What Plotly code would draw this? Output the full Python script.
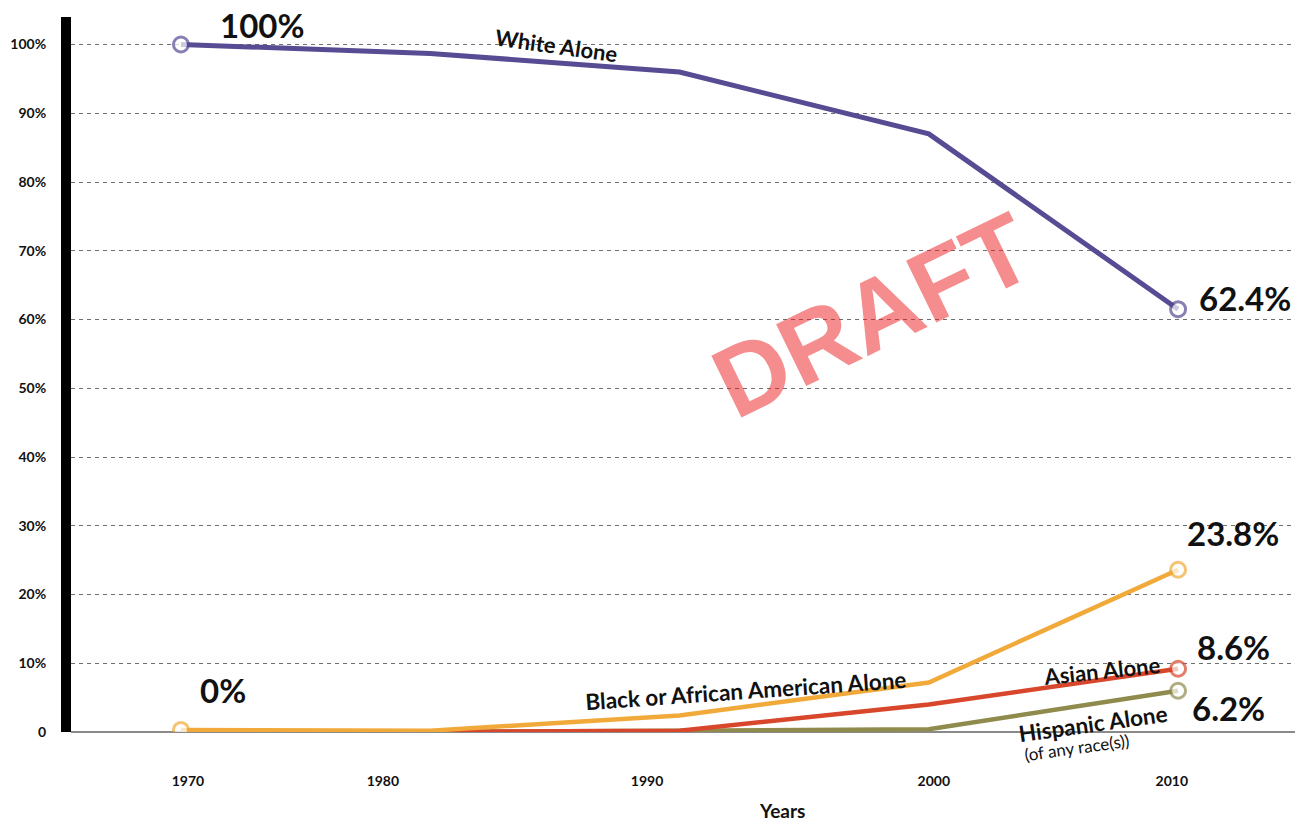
import plotly.graph_objects as go

years = [1970, 1980, 1990, 2000, 2010]
white = [100.0, 98.7, 96.0, 87.0, 61.5]
black = [0.3, 0.2, 2.4, 7.2, 23.6]
asian = [0.0, 0.0, 0.2, 4.0, 9.2]
hispanic = [0.0, 0.0, 0.2, 0.4, 6.0]

y_ticks = [0, 10, 20, 30, 40, 50, 60, 70, 80, 90, 100]
y_tick_text = ["0", "10%", "20%", "30%", "40%", "50%", "60%", "70%", "80%", "90%", "100%"]
x_tick_labels = ["1970", "1980", "1990", "2000", "2010"]
x_tick_pos = [1970.28, 1978.1, 1988.7, 2000.2, 2009.75]

end_labels = {"white": "62.4%", "black": "23.8%", "asian": "8.6%", "hispanic": "6.2%"}
start_labels = {"white": "100%", "black": "0%"}

C_WHITE = "#574B93"
C_BLACK = "#F1AA3A"
C_ASIAN = "#D8462B"
C_HISP = "#8E8B4C"
FONT = "Lato"

fig = go.Figure()


def add_line(y, color, width, show_first):
    sizes = [15 if (i == len(y) - 1 or (i == 0 and show_first)) else 0 for i in range(len(y))]
    lws = [3 if s else 0 for s in sizes]
    fig.add_trace(go.Scatter(
        x=years, y=y, mode="lines+markers",
        line=dict(color=color, width=width),
        marker=dict(size=sizes, color="white", line=dict(color=color, width=lws)),
        showlegend=False, hoverinfo="skip"))


add_line(hispanic, C_HISP, 4.5, False)
add_line(asian, C_ASIAN, 4.5, False)
add_line(black, C_BLACK, 4.5, True)
add_line(white, C_WHITE, 5, True)


def px_x(px):
    return 1970 + (px - 181) / 24.93


def px_y(py):
    return (732 - py) / 6.875


anns = []
big = dict(family=FONT, size=33, color="#111111", weight="bold")
anns.append(dict(x=px_x(262), y=px_y(25), text=start_labels["white"], font=big, xanchor="center", yanchor="middle"))
anns.append(dict(x=px_x(223), y=px_y(690), text=start_labels["black"], font=big, xanchor="center", yanchor="middle"))
anns.append(dict(x=px_x(1197), y=px_y(298), text=end_labels["white"], font=big, xanchor="left", yanchor="middle"))
anns.append(dict(x=px_x(1185), y=px_y(533), text=end_labels["black"], font=big, xanchor="left", yanchor="middle"))
anns.append(dict(x=px_x(1195), y=px_y(647), text=end_labels["asian"], font=big, xanchor="left", yanchor="middle"))
anns.append(dict(x=px_x(1190), y=px_y(708), text=end_labels["hispanic"], font=big, xanchor="left", yanchor="middle"))

lab = dict(family=FONT, size=22, color="#111111", weight="bold")
anns.append(dict(x=px_x(557), y=px_y(45), text="White Alone", font=lab, textangle=8))
anns.append(dict(x=px_x(746), y=px_y(690), text="Black or African American Alone", font=dict(lab, size=22.5), textangle=-4))
anns.append(dict(x=px_x(1102), y=px_y(670), text="Asian Alone", font=lab, textangle=-6))
anns.append(dict(x=px_x(1093), y=px_y(723), text="Hispanic Alone", font=dict(lab, size=22.5), textangle=-8))
anns.append(dict(x=px_x(1077), y=0, yshift=732 - 747, text="(of any race(s))",
                 font=dict(family=FONT, size=17, color="#111111"), textangle=-8))

for a in anns:
    a.update(xref="x", yref="y", showarrow=False)

anns.append(dict(x=(782 - 71) / (1295 - 71), y=-78 / 715, xref="paper", yref="paper", text="Years",
                 showarrow=False, font=dict(family=FONT, size=19, color="#111111", weight="bold"),
                 xanchor="center", yanchor="middle"))
anns.append(dict(x=(872 - 71) / (1295 - 71), y=(732 - 315) / 715, xref="paper", yref="paper", text="DRAFT",
                 showarrow=False, textangle=-26,
                 font=dict(family="Liberation Sans", size=100, color="rgba(235,25,30,0.5)", weight="bold"),
                 xanchor="center", yanchor="middle"))

fig.update_layout(
    width=1295, height=823,
    margin=dict(l=71, r=0, t=17, b=91),
    paper_bgcolor="white", plot_bgcolor="white",
    annotations=anns,
    xaxis=dict(range=[1965.59, 2014.69], tickvals=x_tick_pos, ticktext=x_tick_labels,
               showgrid=False, zeroline=False, showline=False,
               ticks="outside", ticklen=36, tickcolor="rgba(0,0,0,0)",
               tickfont=dict(family=FONT, size=14, color="#111111", weight="bold")),
    yaxis=dict(range=[0, 104], tickvals=y_ticks, ticktext=y_tick_text,
               showgrid=True, gridcolor="#6f6f6f", gridwidth=1, griddash="4px,4px",
               zeroline=True, zerolinecolor="#8a8a8a", zerolinewidth=2,
               showline=True, linecolor="black", linewidth=10,
               ticks="outside", ticklen=12, tickcolor="rgba(0,0,0,0)",
               tickfont=dict(family=FONT, size=14, color="#111111", weight="bold")),
)

fig.write_html("out.html")
